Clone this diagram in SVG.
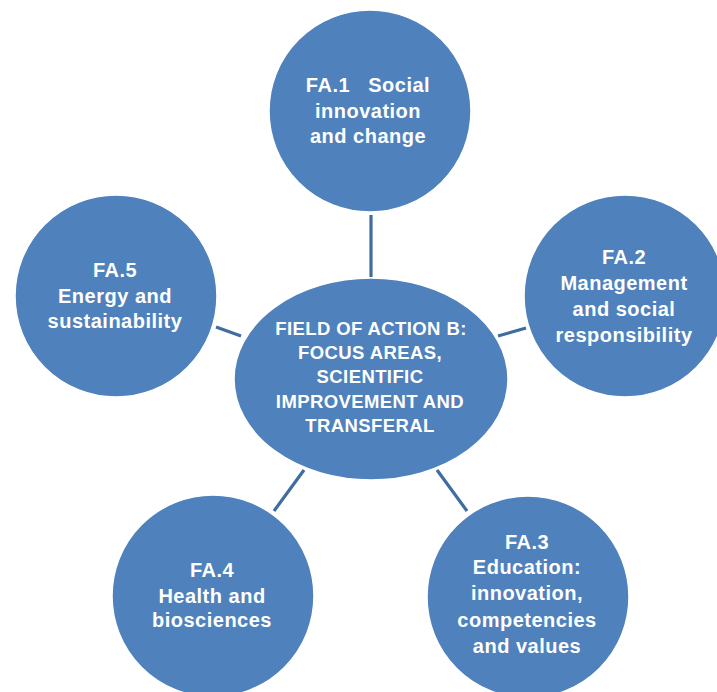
<svg xmlns="http://www.w3.org/2000/svg" width="717" height="692" viewBox="0 0 717 692">
  <style>
    .node { fill: #4f81bd; stroke: #ffffff; stroke-width: 1.5; }
    .label { fill: #ffffff; font-family: "Liberation Sans", Arial, sans-serif; font-weight: bold; font-size: 20px; letter-spacing: 0.5px; text-anchor: middle; }
    .hub { font-size: 18.5px; letter-spacing: 0.4px; }
    .link { stroke: #3f6d9f; stroke-width: 3.2; stroke-linecap: butt; fill: none; }
  </style>
  <rect width="717" height="692" fill="#ffffff"/>

  <!-- spokes between the hub and the focus areas -->
  <g id="connectors">
    <line class="link" x1="371" y1="215" x2="371" y2="277"/>
    <line class="link" x1="498" y1="336" x2="526" y2="328"/>
    <line class="link" x1="216" y1="327" x2="241" y2="336"/>
    <line class="link" x1="304" y1="470" x2="274" y2="511"/>
    <line class="link" x1="437" y1="470" x2="467" y2="511"/>
  </g>

  <g id="hub">
    <ellipse class="node" cx="371" cy="379" rx="137" ry="101"/>
    <text class="label hub" x="371" y="335">FIELD OF ACTION B:</text>
    <text class="label hub" x="370" y="359">FOCUS AREAS,</text>
    <text class="label hub" x="370" y="383">SCIENTIFIC</text>
    <text class="label hub" x="370" y="408">IMPROVEMENT AND</text>
    <text class="label hub" x="370" y="432">TRANSFERAL</text>
  </g>

  <g id="fa1">
    <circle class="node" cx="370" cy="111" r="101"/>
    <text class="label" x="368" y="92" xml:space="preserve">FA.1   Social</text>
    <text class="label" x="368" y="118">innovation</text>
    <text class="label" x="368" y="143">and change</text>
  </g>

  <g id="fa2">
    <circle class="node" cx="625" cy="296" r="101"/>
    <text class="label" x="624" y="264">FA.2</text>
    <text class="label" x="624" y="290">Management</text>
    <text class="label" x="624" y="316">and social</text>
    <text class="label" x="624" y="342">responsibility</text>
  </g>

  <g id="fa3">
    <circle class="node" cx="528" cy="597" r="101"/>
    <text class="label" x="527" y="549">FA.3</text>
    <text class="label" x="527" y="574">Education:</text>
    <text class="label" x="527" y="600">innovation,</text>
    <text class="label" x="527" y="627">competencies</text>
    <text class="label" x="527" y="653">and values</text>
  </g>

  <g id="fa4">
    <circle class="node" cx="213" cy="596" r="101"/>
    <text class="label" x="212" y="577">FA.4</text>
    <text class="label" x="212" y="603">Health and</text>
    <text class="label" x="212" y="627">biosciences</text>
  </g>

  <g id="fa5">
    <circle class="node" cx="116" cy="296" r="101"/>
    <text class="label" x="115" y="277">FA.5</text>
    <text class="label" x="115" y="303">Energy and</text>
    <text class="label" x="115" y="328">sustainability</text>
  </g>
</svg>
